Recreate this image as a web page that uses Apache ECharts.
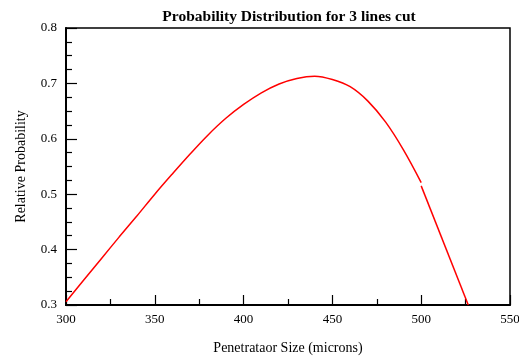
<!DOCTYPE html>
<html>
<head>
<meta charset="utf-8">
<script src="https://cdn.jsdelivr.net/npm/echarts@6/dist/echarts.min.js"></script>
<style>html,body{margin:0;padding:0;background:#fff}#c{width:519px;height:356px}</style>
</head>
<body>
<div id="c"></div>
<script>
var xCurve = [300,310,320,330,340,350,360,370,380,390,400,410,420,430,440,450,460,470,480,490,500];
var yCurve = [0.306,0.345,0.384,0.423,0.461,0.500,0.537,0.573,0.607,0.637,0.662,0.683,0.699,0.709,0.713,0.707,0.694,0.668,0.630,0.580,0.521];
var xTail = [500,526.5];
var yTail = [0.515,0.300];
var xTicks = [300,350,400,450,500,550];
var yTicks = [0.3,0.4,0.5,0.6,0.7,0.8];

var font = 'Liberation Serif';
function pairs(xs, ys){ return xs.map(function(x,i){return [x, ys[i]];}); }

var chart = echarts.init(document.getElementById('c'), null, {renderer:'canvas'});
chart.setOption({
  animation:false,
  backgroundColor:'#fff',
  title:{text:'Probability Distribution for 3 lines cut', left:284, textAlign:'center', top:4,
    textStyle:{fontFamily:font, fontWeight:'bold', fontSize:15.5, color:'#000'}},
  grid:{left:66, right:9, top:28, bottom:51, outerBoundsMode:'none', containLabel:false,
    show:true, borderColor:'#000', borderWidth:1.5, backgroundColor:'transparent'},
  xAxis:{type:'value', min:xTicks[0], max:xTicks[xTicks.length-1], interval:50,
    name:'Penetrataor Size (microns)', nameLocation:'middle', nameGap:36,
    nameTextStyle:{fontFamily:font, fontSize:14, color:'#000'},
    axisLine:{show:true, lineStyle:{color:'#000', width:2}},
    axisTick:{show:true, inside:true, length:10, lineStyle:{color:'#000', width:1.2}},
    minorTick:{show:true, splitNumber:2, length:6, lineStyle:{color:'#000', width:1.2}},
    axisLabel:{fontFamily:font, fontSize:13, color:'#000', margin:8},
    splitLine:{show:false}},
  yAxis:{type:'value', min:yTicks[0], max:yTicks[yTicks.length-1], interval:0.1,
    name:'Relative Probability', nameLocation:'middle', nameGap:38, nameRotate:90,
    nameTextStyle:{fontFamily:font, fontSize:14, color:'#000'},
    axisLine:{show:true, lineStyle:{color:'#000', width:2}},
    axisTick:{show:true, inside:true, length:11, lineStyle:{color:'#000', width:1.2}},
    minorTick:{show:true, splitNumber:4, length:6, lineStyle:{color:'#000', width:1.2}},
    axisLabel:{fontFamily:font, fontSize:13, color:'#000', margin:9,
      formatter:function(v){return v.toFixed(1);}},
    splitLine:{show:false}},
  series:[
    {type:'line', data:pairs(xCurve,yCurve), smooth:0.35, showSymbol:false, clip:true,
      lineStyle:{color:'#ff0000', width:1.5}},
    {type:'line', data:pairs(xTail,yTail), showSymbol:false, clip:true,
      lineStyle:{color:'#ff0000', width:1.5}}
  ]
});
</script>
</body>
</html>
